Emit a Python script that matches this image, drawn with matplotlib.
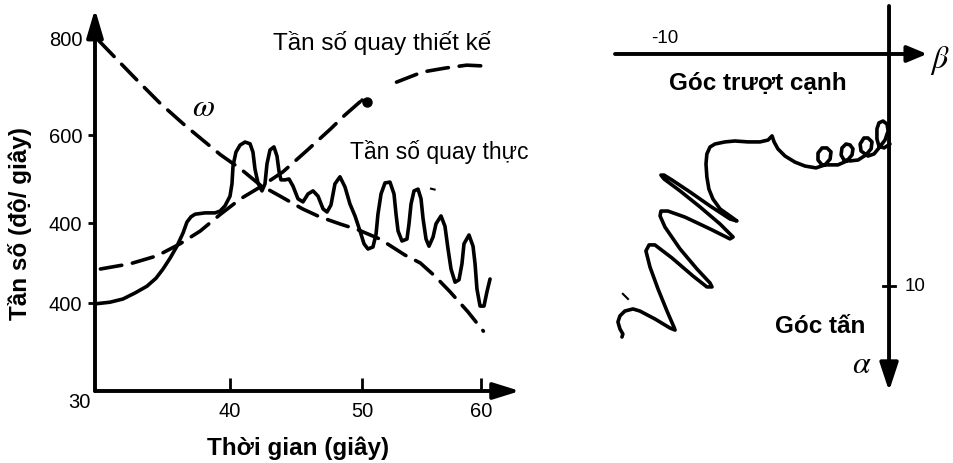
import numpy as np
import matplotlib
matplotlib.use("Agg")
from matplotlib import pyplot as plt

plt.rcParams["font.family"] = ["Liberation Sans", "DejaVu Sans"]
plt.rcParams["mathtext.fontset"] = "stix"

# --- spin rate against time (s, deg/s) ---
omega_t = [30.3, 32.8, 34.8, 36.7, 39.3, 40.8, 42.3, 43.8, 45.5, 46.8,
           48.3, 49.7, 51.5, 53.6, 54.9, 56.1, 57.4, 58.9, 60.2]
omega_w = [794, 722, 666, 619, 555, 523, 486, 461, 432, 414,
           398, 383, 360, 320, 300, 268, 228, 180, 136]

# design spin rate, drawn in two pieces
design_t = [30.4, 32.6, 34.6, 36.3, 37.8, 39.3, 40.8, 42.3, 44.0, 45.8,
            47.6, 48.7, 50.0]
design_w = [285, 298, 318, 348, 380, 420, 455, 482, 516, 564,
            612, 641, 672]
design_end_t = [50.0, 50.4]
design_end_w = [672, 668]
design_t2 = [52.9, 55.1, 57.0, 58.8, 60.5]
design_w2 = [709, 730, 738, 744, 742]

# measured spin rate
actual_t = [30.00, 31.11, 32.07, 32.96, 33.85, 34.52, 35.04, 35.56, 36.07, 36.52,
            36.81, 37.11, 37.41, 38.15, 38.89, 39.26, 39.63, 40.00, 40.15, 40.23,
            40.45, 40.76, 41.14, 41.52, 41.74, 41.89, 42.12, 42.42, 42.65, 42.80,
            43.03, 43.33, 43.56, 43.71, 43.86, 44.17, 44.47, 44.77, 45.15, 45.53,
            45.91, 46.29, 46.67, 47.05, 47.35, 47.65, 47.95, 48.33, 48.71, 49.09,
            49.47, 49.85, 50.17, 50.50, 50.92, 51.18, 51.34, 51.60, 51.93, 52.35,
            52.69, 52.86, 53.03, 53.36, 53.78, 53.95, 54.12, 54.37, 54.71, 54.96,
            55.13, 55.38, 55.63, 55.97, 56.22, 56.64, 56.97, 57.23, 57.48, 57.82,
            58.15, 58.40, 58.57, 58.99, 59.33, 59.50, 59.66, 59.92, 60.25, 60.50,
            60.76]
actual_w = [198, 202, 210, 225, 242, 262, 285, 312, 342, 375,
            402, 414, 420, 423, 423, 427, 439, 461, 489, 530,
            561, 577, 584, 580, 561, 523, 491, 473, 489, 534,
            566, 573, 552, 518, 498, 498, 500, 484, 455, 448,
            466, 473, 461, 432, 425, 441, 489, 505, 482, 443,
            416, 380, 348, 335, 340, 372, 420, 466, 491, 493,
            466, 420, 380, 355, 360, 398, 443, 473, 477, 455,
            410, 360, 342, 365, 398, 416, 392, 335, 285, 252,
            258, 298, 348, 370, 342, 298, 235, 193, 193, 228,
            260]
stray_t = [55.80, 56.10]
stray_w = [478, 476]

t_ticks = [40, 50, 60]
w_ticks = [200, 400, 600, 800]
w_tick_labels = ["400", "400", "600", "800"]

# --- sideslip / angle of attack trajectory (deg) ---
beta = [0.04, -0.22, -0.45, -0.54, -0.54, -0.45, -0.27, -0.09, -0.04, -0.18, -0.45, -0.67,
        -0.94, -1.25, -1.29, -1.12, -0.94, -0.76, -0.80, -1.03, -1.38,
        -1.74, -2.01, -2.14, -2.10, -1.92, -1.74, -1.61, -1.65, -1.88, -2.28,
        -2.63, -2.99, -3.17, -3.17, -2.99, -2.77, -2.59, -2.63, -2.86, -3.26,
        -3.75, -4.20, -4.64, -4.96, -5.13, -5.22, -5.40, -5.76, -6.29, -6.88, -7.32,
        -7.77, -7.99, -8.13, -8.17, -8.13, -8.04, -7.86, -7.54, -7.10, -6.79,
        -7.10, -7.99, -8.88, -9.69, -10.04, -10.18, -10.04, -9.33, -8.44, -7.54, -6.96,
        -7.10, -7.99, -9.11, -9.87, -10.18, -10.22, -10.00, -9.33, -8.57, -7.99, -7.90,
        -8.13, -8.75, -9.69, -10.45, -10.71, -10.85, -10.67, -10.31, -9.91, -9.60, -9.55,
        -9.78, -10.45, -11.12, -11.43, -11.79, -12.01, -12.10, -12.01, -11.88, -11.92]
alpha = [3.88, 4.05, 3.97, 3.66, 3.23, 2.97, 2.89, 3.02, 3.32, 3.71, 4.05, 4.31,
         4.40, 4.18, 3.88, 3.62, 3.62, 3.79, 4.09, 4.35, 4.57,
         4.61, 4.57, 4.35, 4.05, 3.88, 3.92, 4.09, 4.35, 4.61, 4.78,
         4.78, 4.78, 4.57, 4.27, 4.05, 4.05, 4.22, 4.53, 4.78, 4.91,
         4.83, 4.66, 4.40, 4.09, 3.79, 3.53, 3.71, 3.79, 3.79, 3.75, 3.79,
         3.88, 4.01, 4.31, 4.74, 5.30, 5.82, 6.25, 6.68, 6.98, 7.20,
         7.11, 6.55, 5.95, 5.43, 5.22, 5.22, 5.39, 5.90, 6.59, 7.33, 7.89,
         7.97, 7.54, 7.03, 6.77, 6.77, 6.98, 7.46, 8.40, 9.27, 9.87, 10.04,
         10.04, 9.57, 8.79, 8.23, 8.23, 8.49, 9.18, 10.13, 11.08, 11.77, 11.90,
         11.81, 11.42, 11.08, 10.99, 11.08, 11.29, 11.55, 11.85, 12.07, 12.20]
stray_beta = [-11.88, -11.65]
stray_alpha = [10.34, 10.56]

# the sketched axes are not evenly spaced, so map them piecewise-linearly
TIME_KNOTS = [20, 30, 40, 50, 60, 70]
TIME_SPAN = [-40, 95, 230, 362, 481, 600]
RATE_KNOTS = [-200, 0, 200, 400, 600, 800, 1000]
RATE_SPAN = [-480, -392, -304, -224, -136, -39, 58]


def time_fwd(t):
    return np.interp(t, TIME_KNOTS, TIME_SPAN)


def time_inv(p):
    return np.interp(p, TIME_SPAN, TIME_KNOTS)


def rate_fwd(w):
    return np.interp(w, RATE_KNOTS, RATE_SPAN)


def rate_inv(p):
    return np.interp(p, RATE_SPAN, RATE_KNOTS)


def axis_arrow(ax, start, end, coords, hl, hw):
    ax.annotate("", xy=end, xytext=start, xycoords=coords, textcoords=coords,
                annotation_clip=False,
                arrowprops=dict(arrowstyle="-|>,head_length=%g,head_width=%g" % (hl, hw),
                                mutation_scale=20, lw=2.8, color="black",
                                shrinkA=0, shrinkB=0))


def main():
    fig = plt.figure(figsize=(9.54, 4.64), dpi=100)

    # ---------------- left: spin rate vs time ----------------
    ax = fig.add_axes([95 / 954, 72 / 464, 417 / 954, 374 / 464])
    ax.set_xscale("function", functions=(time_fwd, time_inv))
    ax.set_yscale("function", functions=(rate_fwd, rate_inv))
    ax.set_xlim(30, time_inv(512))
    ax.set_ylim(0, rate_inv(-18))
    for s in ax.spines.values():
        s.set_visible(False)

    dash = dict(color="black", lw=2.6, linestyle=(0, (6, 3)), dash_capstyle="round")
    ax.plot(omega_t, omega_w, **dash)
    ax.plot(design_t, design_w, **dash)
    ax.plot(design_t2, design_w2, **dash)
    ax.plot(design_end_t, design_end_w, color="black", lw=2.6, solid_capstyle="round")
    ax.plot(design_end_t[-1:], design_end_w[-1:], "o", color="black", ms=6.5)
    ax.plot(actual_t, actual_w, color="black", lw=2.6,
            solid_joinstyle="round", solid_capstyle="round")
    ax.plot(stray_t, stray_w, color="black", lw=1.5)

    ax.set_xticks(t_ticks)
    ax.set_xticklabels([str(t) for t in t_ticks])
    ax.set_yticks(w_ticks)
    ax.set_yticklabels(w_tick_labels)
    ax.minorticks_off()
    ax.tick_params(axis="x", direction="in", length=9.5, width=2, pad=7, labelsize=14.5)
    ax.tick_params(axis="y", direction="out", length=5, width=2, pad=4, labelsize=14.5)
    ax.yaxis.get_major_ticks()[-1].tick1line.set_visible(False)

    axis_arrow(ax, (0, 0), (1.019, 0), "axes fraction", 0.8, 0.25)
    axis_arrow(ax, (0, 0), (0, 1.0214), "axes fraction", 0.85, 0.25)
    ax.annotate("30", xy=(0, 0), xycoords="axes fraction", xytext=(-11.5, -7.5),
                textcoords="offset points", ha="center", va="center", fontsize=14.5)

    ax.text(43.26, 792, "Tần số quay thiết kế", fontsize=17.5, ha="left", va="center")
    ax.text(49.1, 564, "Tần số quay thực", fontsize=16.5, ha="left", va="center")
    ax.text(38.0, 658, r"$\omega$", fontsize=23, ha="center", va="center")

    fig.text(20 / 954, 1 - 223 / 464, "Tần số (độ/ giây)", rotation=90,
             ha="center", va="center", fontsize=17.5, fontweight="bold")
    fig.text(298 / 954, 1 - 448 / 464, "Thời gian (giây)",
             ha="center", va="center", fontsize=17.5, fontweight="bold")

    # ---------------- right: sideslip vs angle of attack ----------------
    ax2 = fig.add_axes([600 / 954, 0, 354 / 954, 1])
    ax2.set_xlim(-12.90, 2.90)
    ax2.set_ylim(17.63, -2.37)
    ax2.axis("off")

    axis_arrow(ax2, (-12.23, 0), (1.70, 0), "data", 0.6, 0.25)
    axis_arrow(ax2, (0, -2.07), (0, 14.53), "data", 0.85, 0.28)
    ax2.plot([-0.27, 0.27], [10, 10], color="black", lw=2)

    ax2.plot(beta, alpha, color="black", lw=2.6,
             solid_joinstyle="round", solid_capstyle="round")
    ax2.plot(stray_beta, stray_alpha, color="black", lw=1.5)

    ax2.text(-10, -0.73, "-10", ha="center", va="center", fontsize=13.5)
    ax2.text(0.71, 10, "10", ha="left", va="center", fontsize=13.5)
    ax2.text(-5.85, 1.21, "Góc trượt cạnh", ha="center", va="center",
             fontsize=17.5, fontweight="bold")
    ax2.text(-3.08, 11.72, "Góc tấn", ha="center", va="center",
             fontsize=17.5, fontweight="bold")
    ax2.text(2.28, 0.22, r"$\beta$", ha="center", va="center", fontsize=23)
    ax2.text(-1.21, 13.36, r"$\alpha$", ha="center", va="center", fontsize=23)

    fig.savefig("out.png", dpi=100)


if __name__ == "__main__":
    main()
